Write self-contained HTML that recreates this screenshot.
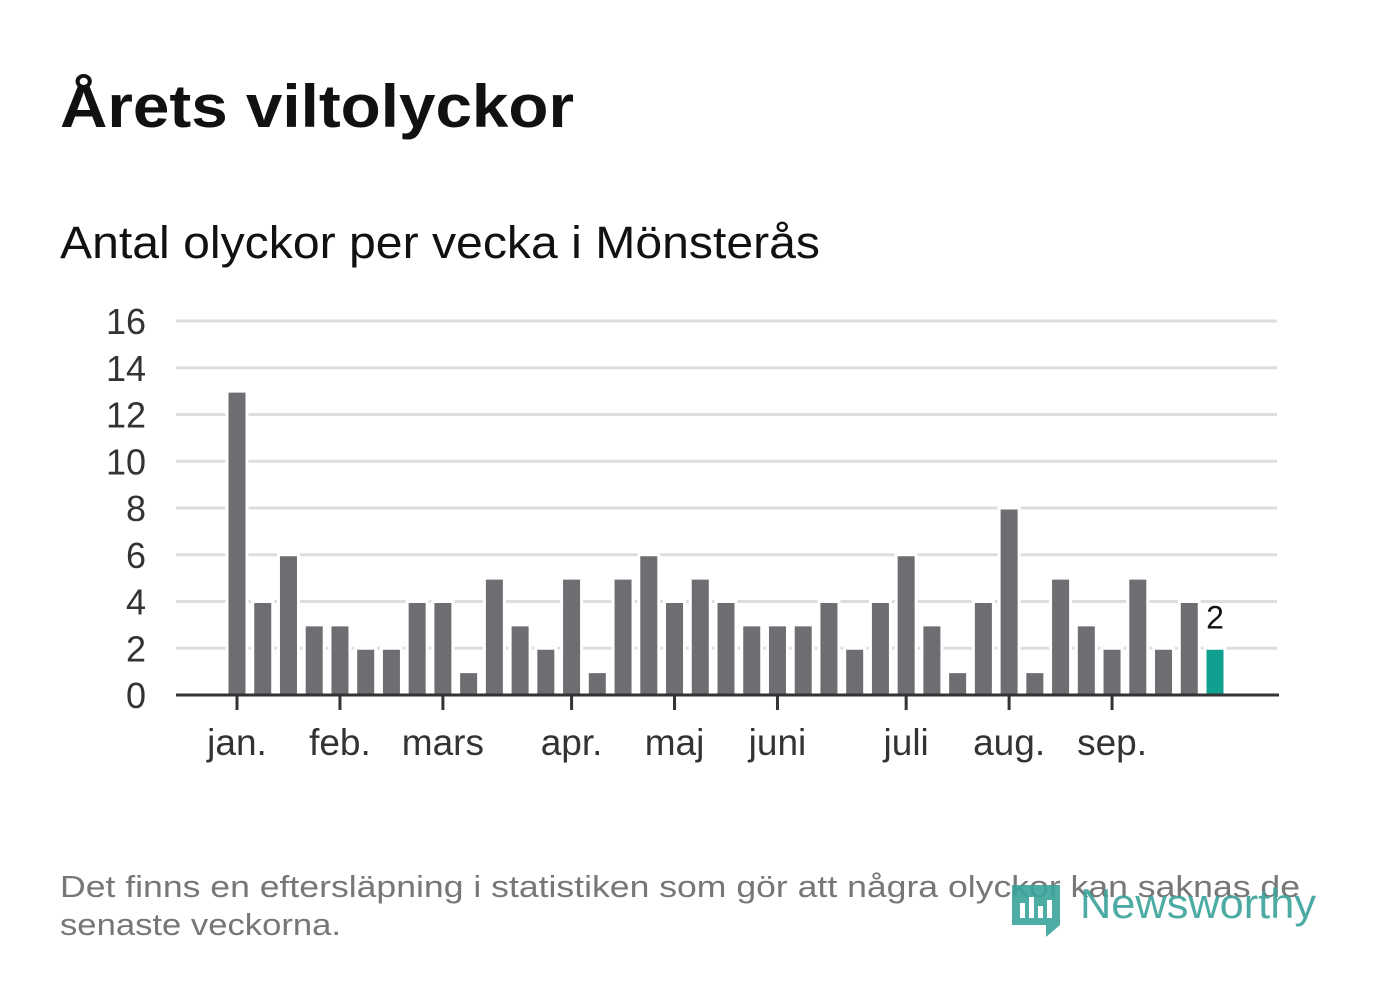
<!DOCTYPE html>
<html><head><meta charset="utf-8"><style>
body{margin:0;background:#fff;width:1382px;height:999px;overflow:hidden;font-family:"Liberation Sans",sans-serif}
</style></head><body>
<svg width="1382" height="999" xmlns="http://www.w3.org/2000/svg">
<text x="60" y="127" font-size="60" font-weight="bold" fill="#111" textLength="514" lengthAdjust="spacingAndGlyphs">Årets viltolyckor</text>
<text x="60" y="258" font-size="45" fill="#111" textLength="760" lengthAdjust="spacingAndGlyphs">Antal olyckor per vecka i Mönsterås</text>
<g id="grid"></g><g id="bars"></g><g id="axis"></g>
<text x="60" y="897" font-size="31" fill="#777" textLength="1240" lengthAdjust="spacingAndGlyphs">Det finns en eftersläpning i statistiken som gör att några olyckor kan saknas de</text>
<text x="60" y="935" font-size="31" fill="#777" textLength="281" lengthAdjust="spacingAndGlyphs">senaste veckorna.</text>
<g>
<path d="M1012 885 h48 v40 l-14 12 v-12 h-34 z" fill="#3aa39a" opacity="0.9"/>
<rect x="1020" y="903" width="5" height="15" fill="#fff"/><rect x="1029" y="897" width="5" height="21" fill="#fff"/><rect x="1038" y="906" width="5" height="12" fill="#fff"/><rect x="1047" y="900" width="5" height="18" fill="#fff"/>
<text x="1080" y="918" font-size="42" fill="#3aa39a" opacity="0.9" textLength="236" lengthAdjust="spacingAndGlyphs">Newsworthy</text>
</g>
</svg>
<script>
const values=[13,4,6,3,3,2,2,4,4,1,5,3,2,5,1,5,6,4,5,4,3,3,3,4,2,4,6,3,1,4,8,1,5,3,2,5,2,4,2];
const yTicks=[0,2,4,6,8,10,12,14,16];
const monthLabels=["jan.","feb.","mars","apr.","maj","juni","juli","aug.","sep."];
const monthWeekIndex=[0,4,8,13,17,21,26,30,34];
const ns="http://www.w3.org/2000/svg";
const x=i=>237+i*(1215-237)/38, y=v=>695-v*(695-321)/16;
function mk(t,a,p){const e=document.createElementNS(ns,t);for(const k in a)e.setAttribute(k,a[k]);p.appendChild(e);return e;}
const g=document.getElementById('grid'),b=document.getElementById('bars'),ax=document.getElementById('axis');
yTicks.forEach(v=>{const l=mk('line',{x1:176,x2:1277,y1:y(v),y2:y(v),stroke:'#ddd','stroke-width':3},g);


const t=mk('text',{x:146,y:y(v)+13,'font-size':36,fill:'#333','text-anchor':'end'},g);t.textContent=v;

});
values.forEach((v,i)=>{const last=i===values.length-1;
const r=mk('rect',{x:x(i)-10,y:y(v),width:20,height:695-y(v),fill:last?'#10a090':'#6e6d72',stroke:'#fff','stroke-width':3},b);


if(last){const t=mk('text',{x:x(i),y:y(v)-20,'font-size':32,fill:'#111','text-anchor':'middle'},b);t.textContent=v;

}});
const al=mk('line',{x1:176,x2:1279,y1:695,y2:695,stroke:'#333','stroke-width':3},ax);


monthLabels.forEach((m,j)=>{const xx=x(monthWeekIndex[j]);
const tk=mk('line',{x1:xx,x2:xx,y1:695,y2:710,stroke:'#333','stroke-width':3},ax);


const t=mk('text',{x:xx,y:755,'font-size':37,fill:'#333','text-anchor':'middle'},ax);t.textContent=m;

});
</script>
</body></html>
